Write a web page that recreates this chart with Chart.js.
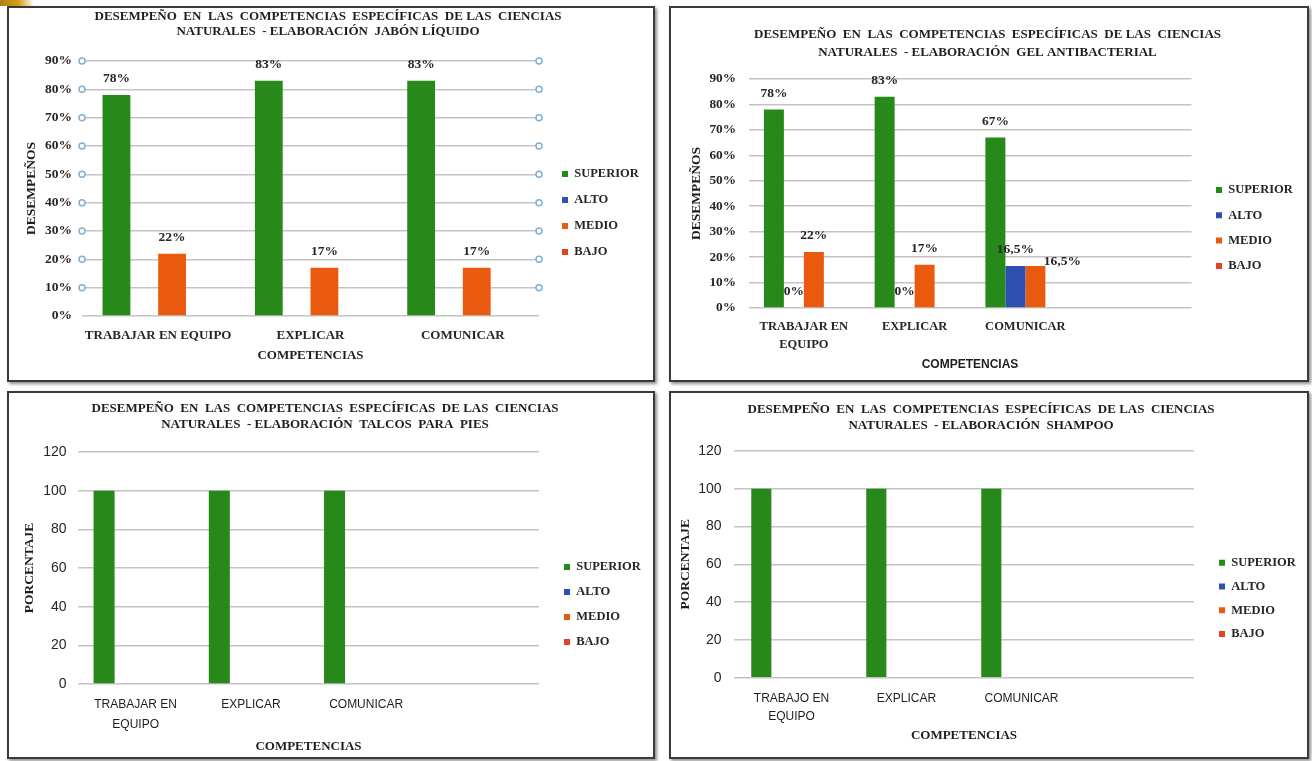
<!DOCTYPE html>
<html>
<head>
<meta charset="utf-8">
<script src="https://cdn.jsdelivr.net/npm/chart.js@4.4.1/dist/chart.umd.min.js"></script>
<style>
  html, body { margin: 0; padding: 0; background: #ffffff; width: 1312px; height: 761px; overflow: hidden; }
  .panel { position: absolute; border: 2px solid #3a3a3a; box-shadow: 2px 2px 3px rgba(0,0,0,0.45); background: #fff; }
  .panel canvas { display: block; }
  #corner { position: absolute; left: 0; top: 0; width: 34px; height: 6px;
    background: linear-gradient(90deg, #b07d10 0%, #d6a21c 55%, rgba(214,162,28,0) 100%); }
</style>
</head>
<body>
<div id="corner"></div>
<div class="panel" style="left:7px; top:6px;"><canvas id="c1" width="644" height="372"></canvas></div>
<div class="panel" style="left:669px; top:6px;"><canvas id="c2" width="636" height="372"></canvas></div>
<div class="panel" style="left:7px; top:391px;"><canvas id="c3" width="644" height="364"></canvas></div>
<div class="panel" style="left:669px; top:391px;"><canvas id="c4" width="636" height="364"></canvas></div>
<script>
// ---------------- DATA ----------------
const seriesNames = ['SUPERIOR', 'ALTO', 'MEDIO', 'BAJO'];

// Chart 1 – Jabón líquido
const jabonCategories = ['TRABAJAR EN EQUIPO', 'EXPLICAR', 'COMUNICAR'];
const jabonSuperior = [78, 83, 83];
const jabonAlto = [null, null, null];
const jabonMedio = [22, 17, 17];
const jabonBajo = [null, null, null];
const jabonTicks = [0, 10, 20, 30, 40, 50, 60, 70, 80, 90];

// Chart 2 – Gel antibacterial
const gelCategories = [['TRABAJAR EN', 'EQUIPO'], 'EXPLICAR', 'COMUNICAR', ''];
const gelSuperior = [78, 83, 67, null];
const gelAlto = [0, 0, 16.5, null];
const gelMedio = [22, 17, 16.5, null];
const gelBajo = [null, null, null, null];
const gelTicks = [0, 10, 20, 30, 40, 50, 60, 70, 80, 90];

// Chart 3 – Talcos para pies
const talcosCategories = [['TRABAJAR EN', 'EQUIPO'], 'EXPLICAR', 'COMUNICAR', ''];
const talcosSuperior = [100, 100, 100, null];
const talcosAlto = [null, null, null, null];
const talcosMedio = [null, null, null, null];
const talcosBajo = [null, null, null, null];
const talcosTicks = [0, 20, 40, 60, 80, 100, 120];

// Chart 4 – Shampoo
const shampooCategories = [['TRABAJO EN', 'EQUIPO'], 'EXPLICAR', 'COMUNICAR', ''];
const shampooSuperior = [100, 100, 100, null];
const shampooAlto = [null, null, null, null];
const shampooMedio = [null, null, null, null];
const shampooBajo = [null, null, null, null];
const shampooTicks = [0, 20, 40, 60, 80, 100, 120];

// ---------------- STYLE ----------------
const SERIF = '"Liberation Serif", "Times New Roman", serif';
const SANS = '"Liberation Sans", Arial, sans-serif';
const seriesColors = ['#26891a', '#2d4fb2', '#ea5a0e', '#e5402a'];
const TXT = '#262626';
const GRID = '#c4c4c4';
const Y_TITLE_HALF = 13.5 * 1.2 / 2;

// data-label plugin (values taken from dataset data)
const valueLabels = {
  id: 'valueLabels',
  afterDatasetsDraw(chart, args, opts) {
    const ctx = chart.ctx;
    ctx.save();
    ctx.font = opts.font;
    ctx.fillStyle = TXT;
    ctx.textAlign = 'center';
    ctx.textBaseline = 'middle';
    chart.data.datasets.forEach((ds, di) => {
      if (!ds.showLabels) return;
      const meta = chart.getDatasetMeta(di);
      meta.data.forEach((el, i) => {
        const v = ds.data[i];
        if (v === null || v === undefined) return;
        const shift = (opts.shifts && opts.shifts[di + ':' + i]) || [0, 0];
        ctx.fillText(opts.format(v), el.x + shift[0], el.y - opts.gap + shift[1]);
      });
    });
    ctx.restore();
  }
};

// hollow markers at gridline ends (chart 1)
const gridMarkers = {
  id: 'gridMarkers',
  afterDraw(chart, args, opts) {
    if (!opts.enabled) return;
    const ys = chart.scales.y, a = chart.chartArea, ctx = chart.ctx;
    ctx.save();
    ctx.strokeStyle = '#7eb0d8';
    ctx.fillStyle = '#ffffff';
    ctx.lineWidth = 1.5;
    ys.ticks.forEach(t => {
      if (t.value === 0) return;
      const y = ys.getPixelForValue(t.value);
      [a.left, a.right].forEach(x => {
        ctx.beginPath();
        ctx.arc(x, y, 3, 0, Math.PI * 2);
        ctx.fill();
        ctx.stroke();
      });
    });
    ctx.restore();
  }
};

function build(id, p) {
  // provisional layout, refined below once the legend's natural width is known
  p.padL = 10; p.padR = 10; p.yW = p.chartLeft - 10; p.y2W = 5;
  const chart = new Chart(document.getElementById(id), {
    type: 'bar',
    data: {
      labels: p.labels,
      datasets: seriesNames.map((name, i) => ({
        label: name,
        data: p.data[i],
        backgroundColor: seriesColors[i],
        borderWidth: 0,
        barPercentage: 1,
        categoryPercentage: p.catPct,
        showLabels: p.showLabels[i]
      }))
    },
    options: {
      responsive: false,
      animation: false,
      devicePixelRatio: 1,
      layout: { padding: { left: p.padL, right: p.padR, top: 0, bottom: p.padB } },
      plugins: {
        title: {
          display: true, text: p.title, color: '#1e1e1e',
          font: { family: SERIF, weight: 'bold', size: 13, lineHeight: p.titleLH },
          padding: { top: p.titlePT, bottom: p.titlePB }
        },
        legend: {
          position: 'right', fullSize: false,
          title: { display: true, text: '', font: { size: 10, lineHeight: 1 }, padding: { top: 0, bottom: p.legendTH - 10 } },
          labels: { boxWidth: 6, boxHeight: 6, padding: p.legendPad, color: TXT,
            font: { family: SERIF, weight: 'bold', size: 12.5 } }
        },
        tooltip: { enabled: false },
        valueLabels: { font: 'bold 13.5px ' + SERIF, gap: 16.5, format: p.fmt, shifts: p.shifts || {} },
        gridMarkers: { enabled: !!p.markers }
      },
      scales: {
        x: {
          grid: { display: false, drawTicks: false }, border: { display: false },
          ticks: { color: p.xColor || TXT, font: p.xFont, padding: p.xPad, maxRotation: 0, autoSkip: false },
          title: { display: true, text: 'COMPETENCIAS', color: '#1e1e1e', font: p.xTitleFont, padding: 0 },
          afterFit: s => { s.height = p.xH; }
        },
        y: {
          min: p.ticks[0], max: p.ticks[p.ticks.length - 1],
          afterBuildTicks: s => { s.ticks = p.ticks.map(v => ({ value: v })); },
          ticks: { color: TXT, font: p.yFont, padding: p.yPad, callback: p.yFmt },
          grid: { color: GRID, lineWidth: 1.6, drawTicks: false },
          border: { display: false },
          title: { display: true, text: p.yTitle, color: '#1e1e1e',
            font: { family: SERIF, weight: 'bold', size: 13.5, lineHeight: 1.2 }, padding: { top: 0, bottom: 0 } },
          afterFit: s => { s.width = p.yW; }
        },
        y2: {
          position: 'right', display: true,
          grid: { display: false }, border: { display: false }, ticks: { display: false },
          afterFit: s => { s.width = p.y2W; }
        }
      }
    },
    plugins: [valueLabels, gridMarkers]
  });

  // refine layout: legend at its place, title centred where the reference has it
  const W = chart.width;
  const legendLeft = p.legendBoxX - p.legendPad;
  const padR = W - legendLeft - chart.legend.width;
  const padL = padR - (W - 2 * p.titleCenter);
  p.padL = padL; p.padR = padR;
  p.yW = p.chartLeft - padL;
  p.y2W = legendLeft - p.chartRight;
  chart.options.layout.padding.left = padL;
  chart.options.layout.padding.right = padR;
  chart.options.scales.y.title.padding = { top: p.yTitleX - Y_TITLE_HALF - padL, bottom: 0 };
  chart.update('none');
  return chart;
}

const pct = v => v + '%';
const pctComma = v => String(v).replace('.', ',') + '%';
const plain = v => String(v);

build('c1', {
  labels: jabonCategories,
  data: [jabonSuperior, jabonAlto, jabonMedio, jabonBajo],
  showLabels: [true, false, true, false],
  ticks: jabonTicks, yFmt: pct, fmt: pct, markers: true,
  title: ['DESEMPEÑO  EN  LAS  COMPETENCIAS  ESPECÍFICAS  DE LAS  CIENCIAS', 'NATURALES  - ELABORACIÓN  JABÓN LÍQUIDO'],
  titleLH: 15 / 13, titlePT: 1.5, titlePB: 21.5,
  yTitle: 'DESEMPEÑOS',
  catPct: 0.73,
  chartLeft: 73, chartRight: 530, titleCenter: 319, yTitleX: 23, legendBoxX: 553,
  padB: 16.5, legendPad: 13.5, legendTH: 49,
  xH: 47.5, xPad: 12.2,
  xFont: { family: SERIF, weight: 'bold', size: 13, lineHeight: 1.2 },
  xTitleFont: { family: SERIF, weight: 'bold', size: 13, lineHeight: 1.2 },
  yFont: { family: SERIF, weight: 'bold', size: 13.5 }, yPad: 10
});

build('c2', {
  labels: gelCategories,
  data: [gelSuperior, gelAlto, gelMedio, gelBajo],
  showLabels: [true, true, true, false],
  ticks: gelTicks, yFmt: pct, fmt: pctComma,
  shifts: { '2:2': [27, 12] },
  title: ['DESEMPEÑO  EN  LAS  COMPETENCIAS  ESPECÍFICAS  DE LAS  CIENCIAS', 'NATURALES  - ELABORACIÓN  GEL ANTIBACTERIAL'],
  titleLH: 18 / 13, titlePT: 18, titlePB: 17,
  yTitle: 'DESEMPEÑOS',
  catPct: 0.722,
  chartLeft: 77.5, chartRight: 520.5, titleCenter: 316.5, yTitleX: 26, legendBoxX: 545,
  padB: 7.8, legendPad: 12.8, legendTH: 68.9,
  xH: 64.2, xPad: 10,
  xFont: { family: SERIF, weight: 'bold', size: 12.5, lineHeight: 18 / 12.5 },
  xTitleFont: { family: SANS, weight: 'bold', size: 12, lineHeight: 1.2 },
  yFont: { family: SERIF, weight: 'bold', size: 13.3 }, yPad: 12.5
});

build('c3', {
  labels: talcosCategories,
  data: [talcosSuperior, talcosAlto, talcosMedio, talcosBajo],
  showLabels: [false, false, false, false],
  ticks: talcosTicks, yFmt: plain, fmt: plain,
  title: ['DESEMPEÑO  EN  LAS  COMPETENCIAS  ESPECÍFICAS  DE LAS  CIENCIAS', 'NATURALES  - ELABORACIÓN  TALCOS  PARA  PIES'],
  titleLH: 16 / 13, titlePT: 8, titlePB: 19,
  yTitle: 'PORCENTAJE',
  catPct: 0.73,
  chartLeft: 69, chartRight: 530, titleCenter: 316, yTitleX: 20.5, legendBoxX: 555,
  padB: 2.2, legendPad: 12.5, legendTH: 73,
  xH: 70.8, xPad: 11,
  xColor: '#1e1e1e',
  xFont: { family: SANS, size: 12, lineHeight: 20 / 12 },
  xTitleFont: { family: SERIF, weight: 'bold', size: 13, lineHeight: 1.2 },
  yFont: { family: SANS, size: 14 }, yPad: 11.5
});

build('c4', {
  labels: shampooCategories,
  data: [shampooSuperior, shampooAlto, shampooMedio, shampooBajo],
  showLabels: [false, false, false, false],
  ticks: shampooTicks, yFmt: plain, fmt: plain,
  title: ['DESEMPEÑO  EN  LAS  COMPETENCIAS  ESPECÍFICAS  DE LAS  CIENCIAS', 'NATURALES  - ELABORACIÓN  SHAMPOO'],
  titleLH: 15.7 / 13, titlePT: 9.15, titlePB: 17.45,
  yTitle: 'PORCENTAJE',
  catPct: 0.7,
  chartLeft: 63, chartRight: 523, titleCenter: 310, yTitleX: 15, legendBoxX: 548,
  padB: 13.5, legendPad: 11.3, legendTH: 68.1,
  xH: 65.8, xPad: 11.85,
  xColor: '#1e1e1e',
  xFont: { family: SANS, size: 12, lineHeight: 18.3 / 12 },
  xTitleFont: { family: SERIF, weight: 'bold', size: 13, lineHeight: 1.2 },
  yFont: { family: SANS, size: 14 }, yPad: 12.5
});
</script>
</body>
</html>
